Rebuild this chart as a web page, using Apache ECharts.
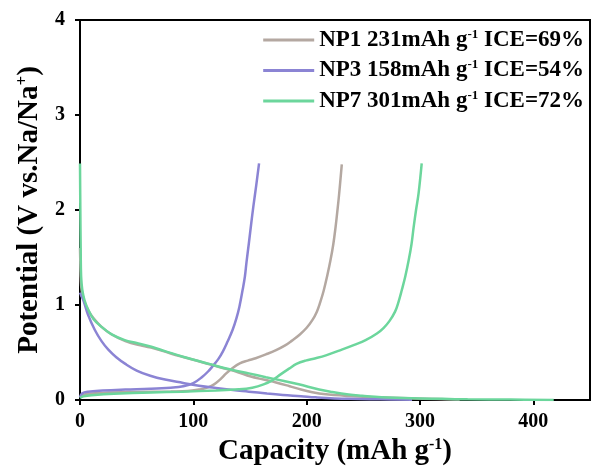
<!DOCTYPE html>
<html>
<head>
<meta charset="utf-8">
<script src="https://cdn.jsdelivr.net/npm/echarts@6/dist/echarts.min.js"></script>
<style>
  html, body { margin: 0; padding: 0; background: #fff; }
  #chart { width: 594px; height: 473px; }
</style>
</head>
<body>
<div id="chart"></div>
<script>
// sample labels and legend text
var samples = ['NP1', 'NP3', 'NP7'];
var capacities = ['231', '158', '301'];
var ices = ['69', '54', '72'];
var colors = ['#b4a8a1', '#8b84d4', '#6cd69c'];

// [capacity mAh/g, potential V]
var np1Discharge = [[0,1.6],[0.5,1.35],[1,1.2],[2,1.12],[4,1.03],[7,0.95],[12,0.86],[19,0.77],[28,0.69],[40,0.62],[55,0.57],[65,0.545],[80,0.49],[95,0.44],[110,0.39],[125,0.34],[140,0.29],[150,0.25],[162,0.215],[173,0.185],[185,0.145],[195,0.11],[205,0.082],[215,0.062],[237,0.042],[260,0.03],[290,0.018],[315,0.01],[335,0.004]];
var np1Charge = [[0,0.03],[5,0.06],[20,0.075],[50,0.085],[80,0.09],[95,0.095],[105,0.11],[111,0.125],[116,0.15],[120,0.18],[124,0.22],[129,0.28],[135,0.34],[141,0.385],[148,0.415],[155,0.44],[164,0.48],[173,0.525],[181,0.575],[187,0.625],[194,0.69],[200,0.76],[205,0.84],[209,0.93],[212,1.03],[215,1.15],[218,1.3],[221,1.47],[223.5,1.64],[225.5,1.82],[227,1.98],[228.5,2.15],[231,2.48]];
var np3Discharge = [[0,1.13],[1,1.1],[3,1.05],[7,0.9],[13,0.74],[19,0.62],[25,0.53],[32,0.45],[40,0.38],[50,0.31],[62,0.255],[75,0.215],[91,0.18],[105,0.15],[120,0.126],[135,0.105],[149,0.088],[165,0.068],[179,0.053],[195,0.04],[208,0.028],[237,0.012],[265,0.007],[293,0.003]];
var np3Charge = [[0,0.03],[2,0.07],[7,0.088],[20,0.1],[40,0.11],[62,0.118],[80,0.13],[91,0.145],[100,0.178],[108,0.245],[113,0.3],[117,0.355],[122,0.43],[126,0.51],[130,0.61],[134.7,0.74],[138,0.86],[140.6,0.98],[143.5,1.16],[145.5,1.3],[147,1.46],[149,1.65],[151,1.85],[153,2.04],[155.5,2.26],[158,2.49]];
var np7Discharge = [[0,2.49],[0.3,2.0],[0.6,1.6],[1,1.3],[2,1.16],[4,1.05],[7.3,0.95],[12,0.85],[19,0.77],[28,0.69],[39.5,0.63],[50,0.6],[63,0.56],[75,0.515],[90.8,0.456],[114,0.38],[134.7,0.316],[149,0.28],[164,0.24],[180,0.2],[193,0.165],[211,0.11],[222,0.085],[237,0.058],[249,0.045],[266,0.03],[293,0.018],[320,0.012],[342,0.007],[380,0.004],[418,0.001]];
var np7Charge = [[0,0.02],[3,0.04],[13,0.053],[30,0.065],[63,0.08],[90,0.088],[120,0.1],[140,0.112],[152,0.13],[162,0.165],[170,0.21],[177,0.27],[184.5,0.33],[191,0.38],[199,0.415],[208,0.44],[217,0.47],[231,0.53],[242,0.58],[252,0.63],[262,0.7],[268,0.76],[273,0.83],[278,0.93],[281,1.03],[284,1.16],[287,1.3],[290,1.47],[292.5,1.64],[294.4,1.82],[296.5,2.0],[298.8,2.18],[301.5,2.49]];

var curves = [
  [np1Discharge, np1Charge],
  [np3Discharge, np3Charge],
  [np7Discharge, np7Charge]
];

var font = '"Liberation Serif", "Times New Roman", serif';
var chart = echarts.init(document.getElementById('chart'));

var series = [];
curves.forEach(function(pair, i){
  pair.forEach(function(d){
    series.push({
      name: samples[i],
      type: 'line',
      data: d,
      symbol: 'none',
      smooth: 0.4,
      lineStyle: { color: colors[i], width: 2.5 },
      itemStyle: { color: colors[i] }
    });
  });
});

chart.setOption({
  animation: false,
  grid: { left: 80, right: 4, top: 20, bottom: 73, outerBoundsMode: 'none', containLabel: false, show: true, borderColor: '#000', borderWidth: 2 },
  legend: {
    data: samples,
    orient: 'vertical',
    right: 5,
    top: 23,
    itemWidth: 51,
    itemHeight: 3,
    itemGap: 7,
    icon: 'rect',
    formatter: function(name){
      var i = samples.indexOf(name);
      return '{b|' + name + ' ' + capacities[i] + 'mAh g}{sup|-1}{b| ICE=' + ices[i] + '%}';
    },
    textStyle: {
      rich: {
        b: { fontFamily: font, fontWeight: 'bold', fontSize: 23, color: '#000' },
        sup: { fontFamily: font, fontWeight: 'bold', fontSize: 13, color: '#000', padding: [0, 0, 11, 0] }
      }
    }
  },
  xAxis: {
    type: 'value',
    min: 0, max: 450, interval: 100,
    name: '{n|Capacity (mAh g}{s|-1}{n|)}',
    nameLocation: 'middle',
    nameGap: 35,
    nameTextStyle: {
      rich: {
        n: { fontFamily: font, fontWeight: 'bold', fontSize: 29, color: '#000' },
        s: { fontFamily: font, fontWeight: 'bold', fontSize: 16, color: '#000', padding: [0, 0, 14, 0] }
      }
    },
    axisLine: { lineStyle: { color: '#000', width: 2 } },
    axisTick: { inside: false, length: 5, lineStyle: { color: '#000', width: 2 } },
    axisLabel: { showMaxLabel: false, fontFamily: font, fontWeight: 'bold', fontSize: 20, color: '#000', margin: 12 },
    splitLine: { show: false }
  },
  yAxis: {
    type: 'value',
    min: 0, max: 4, interval: 1,
    name: '{n|Potential (V vs.Na/Na}{s|+}{n|)}',
    nameLocation: 'middle',
    nameGap: 33,
    nameTextStyle: {
      rich: {
        n: { fontFamily: font, fontWeight: 'bold', fontSize: 29, color: '#000' },
        s: { fontFamily: font, fontWeight: 'bold', fontSize: 17, color: '#000', padding: [0, 0, 14, 0] }
      }
    },
    axisLine: { lineStyle: { color: '#000', width: 2 } },
    axisTick: { inside: false, length: 5, lineStyle: { color: '#000', width: 2 } },
    axisLabel: { fontFamily: font, fontWeight: 'bold', fontSize: 20, color: '#000', margin: 15 },
    splitLine: { show: false }
  },
  series: series
});
</script>
</body>
</html>
